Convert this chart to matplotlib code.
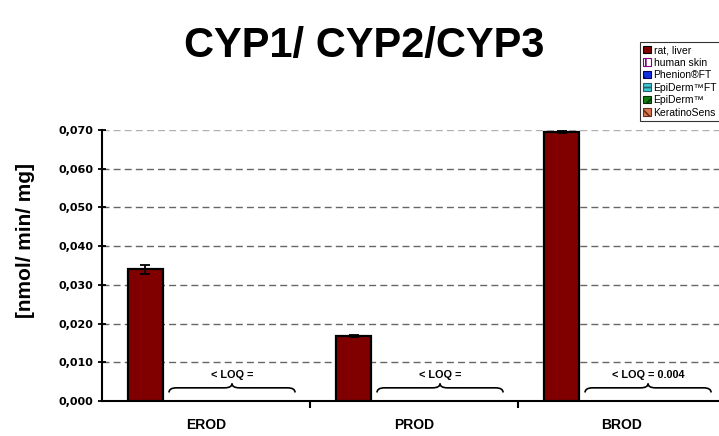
import matplotlib
matplotlib.use("Agg")
import matplotlib.pyplot as plt
from matplotlib.path import Path
from matplotlib.patches import PathPatch, Patch
import numpy as np

plt.rcParams['font.family'] = ['Liberation Sans', 'DejaVu Sans']
plt.rcParams['hatch.linewidth'] = 1.2

# data
categories = ['EROD', 'PROD', 'BROD']
series = ['rat, liver', 'human skin', 'Phenion®FT', 'EpiDerm™FT', 'EpiDerm™', 'KeratinoSens']
rat_liver = [0.0340, 0.0168, 0.0695]
rat_liver_err = [0.0012, 0.0002, 0.0003]
loq_labels = ['< LOQ =', '< LOQ =', '< LOQ = 0.004']
yticks = [0.0, 0.01, 0.02, 0.03, 0.04, 0.05, 0.06, 0.07]

fig = plt.figure(figsize=(7.19, 4.36), dpi=100)
ax = fig.add_axes([102 / 719, 35 / 436, 617 / 719, 271 / 436])

x = np.arange(len(categories))
bar_off = -0.291
bar_w = 0.168
ax.bar(x + bar_off, rat_liver, width=bar_w, color='#800000', edgecolor='black',
       linewidth=1.6, zorder=3)
ax.errorbar(x + bar_off, rat_liver, yerr=rat_liver_err, fmt='none', ecolor='black',
            elinewidth=1.3, capsize=3.5, capthick=1.3, zorder=4)


def brace(ax, x0, x1, y_low, y_mid, y_top):
    xm = (x0 + x1) / 2
    d = (x1 - x0) * 0.06
    verts = [(x0, y_low), (x0, y_mid), (x0 + d, y_mid),
             (xm - d, y_mid), (xm, y_mid), (xm, y_top),
             (xm, y_mid), (xm + d, y_mid),
             (x1 - d, y_mid), (x1, y_mid), (x1, y_low)]
    codes = [Path.MOVETO, Path.CURVE3, Path.CURVE3,
             Path.LINETO, Path.CURVE3, Path.CURVE3,
             Path.CURVE3, Path.CURVE3,
             Path.LINETO, Path.CURVE3, Path.CURVE3]
    ax.add_patch(PathPatch(Path(verts, codes), fill=False, lw=1.2,
                           edgecolor='black', zorder=5))


for i, lab in enumerate(loq_labels):
    x0 = i - 0.5 + 0.322
    x1 = i - 0.5 + 0.928
    brace(ax, x0, x1, 0.0022, 0.0034, 0.0045)
    ax.text((x0 + x1) / 2, 0.0068, lab, ha='center', va='center',
            fontsize=7.8, fontweight='bold', zorder=5)

ax.set_xlim(-0.5, 2.466)
ax.set_ylim(0, 0.070)
ax.set_yticks(yticks)
ax.set_yticklabels([f'{v:.3f}'.replace('.', ',') for v in yticks],
                   fontsize=8, fontweight='bold', family='DejaVu Sans')
ax.set_xticks([0.5, 1.5], minor=False)
ax.set_xticklabels([])
ax.set_xticks(x, minor=True)
ax.set_xticklabels(categories, minor=True, fontsize=10, fontweight='bold')
ax.tick_params(axis='x', which='minor', length=0, pad=12)
ax.tick_params(axis='x', which='major', length=5, direction='out', width=1.5)
ax.tick_params(axis='y', length=6, direction='inout', width=1.3, pad=3)

for v in yticks[1:]:
    ax.axhline(v, color='#666666' if v < 0.065 else '#b0b0b0', lw=1,
               dashes=(5, 3), zorder=1)

for s in ['top', 'right']:
    ax.spines[s].set_visible(False)
ax.spines['left'].set_linewidth(1.5)
ax.spines['bottom'].set_linewidth(1.5)

ax.set_ylabel('[nmol/ min/ mg]', fontsize=15, fontweight='bold')
ax.yaxis.set_label_coords((35 - 102) / 617, (401 - 240) / 271)

fig.text(364 / 719, 1 - 46 / 436, 'CYP1/ CYP2/CYP3', ha='center', va='center',
         fontsize=30, fontweight='bold')

# legend
styles = [
    dict(facecolor='#800000', edgecolor='black'),
    dict(facecolor='white', edgecolor='#800080', hatch='||'),
    dict(facecolor='#1030e0', edgecolor='#000060', hatch='\\\\'),
    dict(facecolor='#40c8d0', edgecolor='#206070', hatch='--'),
    dict(facecolor='#108010', edgecolor='#003000', hatch='//'),
    dict(facecolor='#e07850', edgecolor='#603020', hatch='\\\\'),
]
handles = [Patch(label=s, linewidth=0.8, **st) for s, st in zip(series, styles)]
leg = fig.legend(handles=handles, loc='upper left', bbox_to_anchor=(640 / 719, 1 - 42 / 436),
                 fontsize=7.5, frameon=True, fancybox=False, edgecolor='black',
                 handlelength=0.75, handleheight=0.75, handletextpad=0.25,
                 labelspacing=0.24, borderpad=0.3, borderaxespad=0)
leg.get_frame().set_linewidth(0.8)

fig.savefig('out.png', dpi=100)
